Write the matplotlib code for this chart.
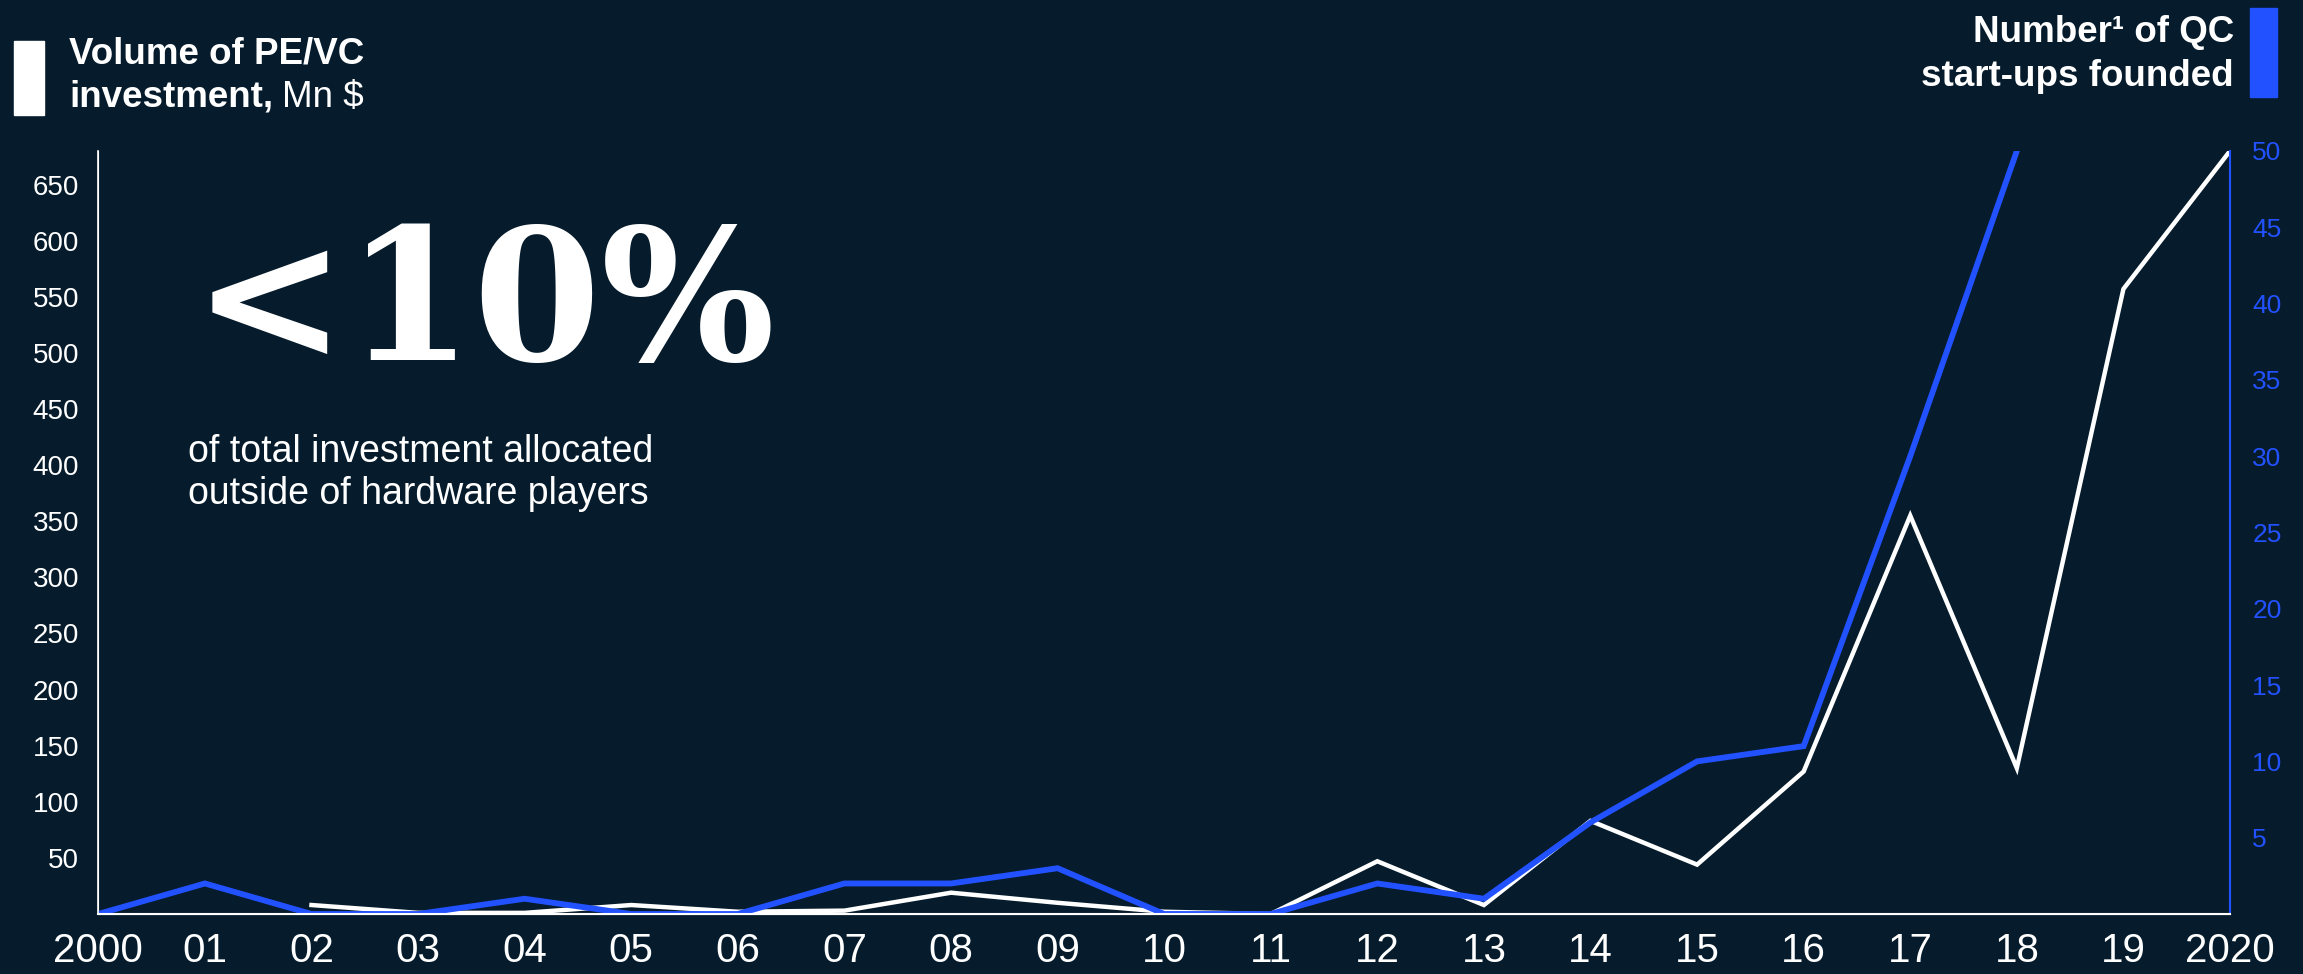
import numpy as np
import matplotlib
matplotlib.use("Agg")
import matplotlib.pyplot as plt
from matplotlib.patches import Rectangle

# data
years = list(range(2000, 2021))
year_labels = ['2000', '01', '02', '03', '04', '05', '06', '07', '08', '09', '10',
               '11', '12', '13', '14', '15', '16', '17', '18', '19', '2020']
investment = [np.nan, np.nan, 8, 1, 1, 8, 2, 3, 19, 10, 2,
              0, 47, 8, 83, 44, 127, 355, 130, 557, 680]
startups = [0, 2, 0, 0, 1, 0, 0, 2, 2, 3, 0,
            0, 2, 1, 6, 10, 11, 30, 50, np.nan, np.nan]
left_ticks = list(range(50, 700, 50))
right_ticks = list(range(5, 55, 5))

bg = '#061c2c'
blue = '#2251ff'
narrow = ['Liberation Sans Narrow', 'Liberation Sans', 'DejaVu Sans']
sans = ['Liberation Sans', 'DejaVu Sans']

fig = plt.figure(figsize=(23.03, 9.74), dpi=100, facecolor=bg)
ax = fig.add_axes([0.0427, 0.0616, 0.9256, 0.7834])
ax.set_facecolor(bg)
ax2 = ax.twinx()

ax.plot(years, investment, color='white', lw=3.2, solid_joinstyle='miter')
ax2.plot(years, startups, color=blue, lw=4.2, solid_joinstyle='miter')

ax.set_xlim(2000, 2020)
ax.set_ylim(0, 680)
ax2.set_ylim(0, 50)

ax.set_xticks(years)
ax.set_xticklabels(year_labels, family=narrow, fontsize=29, color='white')
ax.set_yticks(left_ticks)
ax.set_yticklabels([str(t) for t in left_ticks], family=narrow, fontsize=20, color='white')
ax2.set_yticks(right_ticks)
ax2.set_yticklabels([str(t) for t in right_ticks], family=sans, fontsize=19, color=blue)
ax.tick_params(axis='x', length=0, pad=13)
ax.tick_params(axis='y', length=0, pad=14)
ax2.tick_params(axis='y', length=0, pad=16)

for a in (ax, ax2):
    a.spines['top'].set_visible(False)
ax.spines['right'].set_visible(False)
ax2.spines['left'].set_color('white')
ax2.spines['left'].set_linewidth(1.2)
ax2.spines['bottom'].set_color('white')
ax2.spines['bottom'].set_linewidth(1.5)
ax2.spines['right'].set_color(blue)
ax2.spines['right'].set_linewidth(1.5)
ax.spines['left'].set_color('white')
ax.spines['bottom'].set_color('white')

# callout
ax.text(0.044, 0.726, '<10%', transform=ax.transAxes, family=['DejaVu Serif'],
        fontweight='bold', fontsize=132, color='white', va='baseline', ha='left')
ax.text(0.042, 0.527, 'of total investment allocated\noutside of hardware players',
        transform=ax.transAxes, family=narrow, fontsize=27, color='white',
        va='bottom', ha='left', linespacing=1.22)

# legend headers
fig.patches.append(Rectangle((14 / 2303, 1 - 115 / 974), 30 / 2303, 74 / 974,
                             transform=fig.transFigure, color='white'))
fig.patches.append(Rectangle((2250 / 2303, 1 - 97 / 974), 27 / 2303, 89 / 974,
                             transform=fig.transFigure, color=blue))

fig.text(69 / 2303, 1 - 63 / 974, 'Volume of PE/VC', family=sans, fontweight='bold',
         fontsize=26.5, color='white', va='baseline')
t1 = fig.text(69 / 2303, 1 - 107 / 974, 'investment,', family=sans, fontweight='bold',
              fontsize=26.5, color='white', va='baseline')
fig.canvas.draw()
bb = t1.get_window_extent()
fig.text((bb.x1 + 9) / 2303, 1 - 107 / 974, 'Mn $', family=sans,
         fontsize=26.5, color='white', va='baseline')

fig.text(2234 / 2303, 1 - 42 / 974, 'Number\u00b9 of QC', family=sans, fontweight='bold',
         fontsize=26.5, color='white', va='baseline', ha='right')
fig.text(2234 / 2303, 1 - 86 / 974, 'start-ups founded', family=sans, fontweight='bold',
         fontsize=26.5, color='white', va='baseline', ha='right')

fig.savefig('out.png', dpi=100, facecolor=bg)
